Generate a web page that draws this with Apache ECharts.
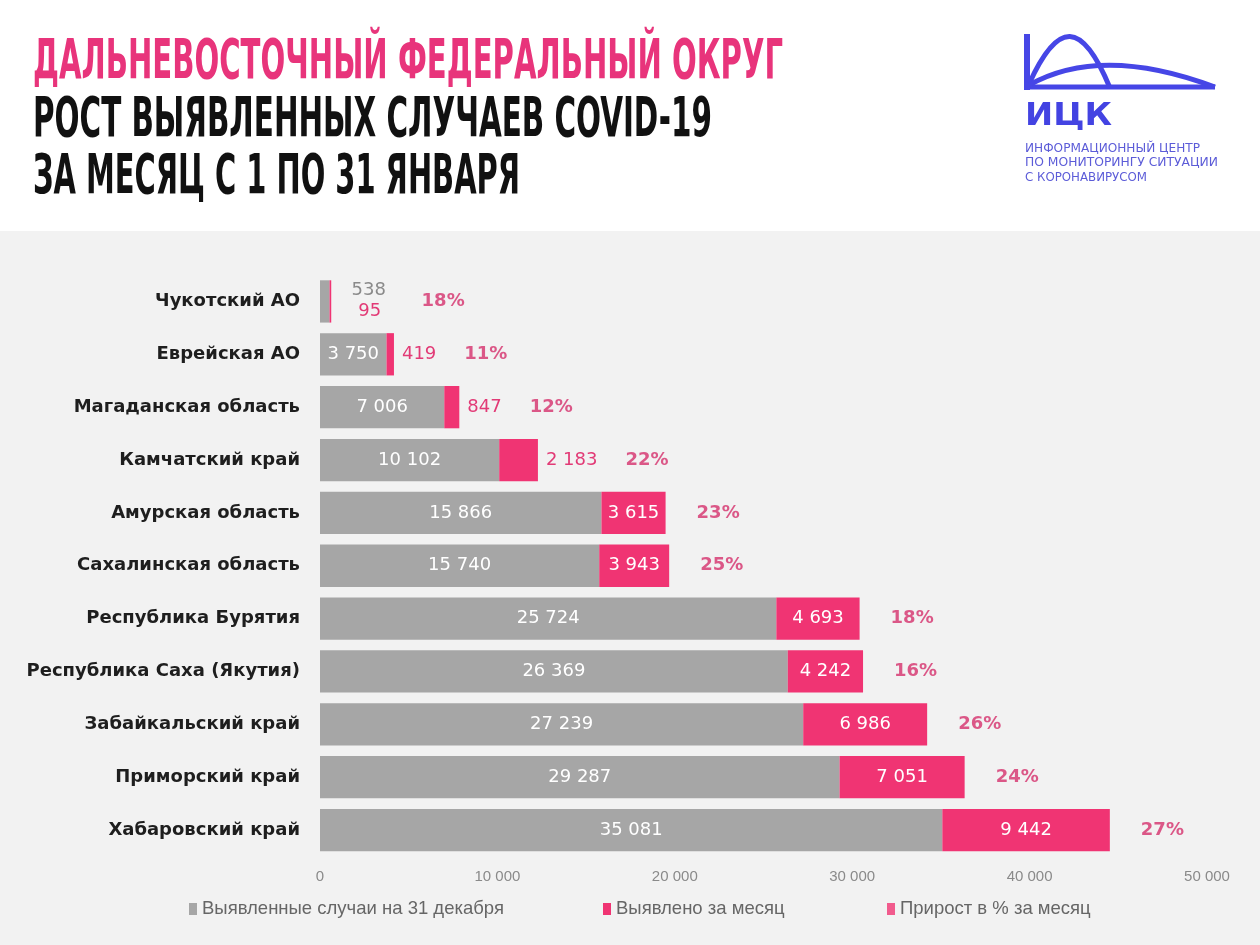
<!DOCTYPE html>
<html><head><meta charset="utf-8">
<script src="https://cdn.jsdelivr.net/npm/echarts@6/dist/echarts.min.js"></script>
<style>html,body{margin:0;padding:0;background:#f2f2f2}#c{width:1260px;height:945px}</style>
</head><body><div id="c"></div>
<script>
// ---- data ----
const categories = ['Чукотский АО','Еврейская АО','Магаданская область','Камчатский край','Амурская область','Сахалинская область','Республика Бурятия','Республика Саха (Якутия)','Забайкальский край','Приморский край','Хабаровский край'];
const baseCases = [538, 3750, 7006, 10102, 15866, 15740, 25724, 26369, 27239, 29287, 35081];
const monthCases = [95, 419, 847, 2183, 3615, 3943, 4693, 4242, 6986, 7051, 9442];
const growthPct = [18, 11, 12, 22, 23, 25, 18, 16, 26, 24, 27];
const seriesNames = ['Выявленные случаи на 31 декабря', 'Выявлено за месяц', 'Прирост в % за месяц'];
const titleLines = ['ДАЛЬНЕВОСТОЧНЫЙ ФЕДЕРАЛЬНЫЙ ОКРУГ', 'РОСТ ВЫЯВЛЕННЫХ СЛУЧАЕВ COVID-19', 'ЗА МЕСЯЦ С 1 ПО 31 ЯНВАРЯ'];
const logoLines = ['ИНФОРМАЦИОННЫЙ ЦЕНТР', 'ПО МОНИТОРИНГУ СИТУАЦИИ', 'С КОРОНАВИРУСОМ'];

// ---- helpers ----
const fmt = n => String(n).replace(/\B(?=(\d{3})+(?!\d))/g, ' ');
const ctx = document.createElement('canvas').getContext('2d');
const measure = (t, font) => { ctx.font = font; return ctx.measureText(t).width; };

const GRAY = '#a6a6a6', PINK = '#f03473', PINK_TXT = '#e23a76', PCT = '#d42f6b', BLUE = '#4646e6';
const LABEL_FONT = '18px "DejaVu Sans"';
const INSIDE_MIN = 3000;

function scaledText(txt, font, color, x, yMid, targetW) {
  const w = measure(txt, font);
  return { type: 'text', x: x, y: yMid, scaleX: targetW / w, scaleY: 1, silent: true,
    style: { text: txt, font: font, fill: color, x: 0, y: 0, align: 'left', verticalAlign: 'middle' } };
}

const baseData = baseCases.map(v => v >= INSIDE_MIN
  ? { value: v, label: { position: 'inside', color: '#fff' } }
  : { value: v, label: { position: 'right', distance: 22, offset: [0, -11], color: '#8a8a8a' } });

const monthData = monthCases.map((v, i) => {
  if (v >= INSIDE_MIN) return { value: v, label: { position: 'inside', color: '#fff' } };
  if (baseCases[i] >= INSIDE_MIN) return { value: v, label: { position: 'right', distance: 8, color: PINK_TXT } };
  return { value: v, label: { position: 'right', distance: 27, offset: [0, 10], color: PINK_TXT } };
});

const pctData = growthPct.map((p, i) => {
  const total = baseCases[i] + monthCases[i];
  let dist;
  if (monthCases[i] >= INSIDE_MIN) dist = 31;
  else if (baseCases[i] >= INSIDE_MIN) dist = 8 + measure(fmt(monthCases[i]), LABEL_FONT) + 28;
  else dist = 22 + Math.max(measure(fmt(baseCases[i]), LABEL_FONT), measure(fmt(monthCases[i]), LABEL_FONT)) + 34;
  return { value: [total, categories[i]], label: { distance: dist } };
});

const legendCommon = {
  icon: 'rect', itemWidth: 8, itemHeight: 12, itemGap: 0, padding: 0, top: 899,
  selectedMode: false,
  textStyle: { fontFamily: '"Liberation Sans"', fontSize: 18.5, color: '#666', lineHeight: 20 }
};

const TITLE_FONT = 'bold 56px "DejaVu Sans Condensed"';
const graphics = [
  { type: 'rect', silent: true, shape: { x: 0, y: 0, width: 1260, height: 231 }, style: { fill: '#ffffff' } },
  scaledText(titleLines[0], TITLE_FONT, '#e8347b', 33, 63, 750),
  scaledText(titleLines[1], TITLE_FONT, '#111111', 33, 121, 679),
  scaledText(titleLines[2], TITLE_FONT, '#111111', 33, 178, 487),
  // logo
  { type: 'line', silent: true, shape: { x1: 1027, y1: 34, x2: 1027, y2: 90 }, style: { stroke: BLUE, lineWidth: 6 } },
  { type: 'line', silent: true, shape: { x1: 1024, y1: 87, x2: 1215, y2: 87 }, style: { stroke: BLUE, lineWidth: 5 } },
  { type: 'bezierCurve', silent: true, shape: { x1: 1029, y1: 84, cpx1: 1058, cpy1: 20, cpx2: 1082, cpy2: 20, x2: 1110, y2: 88 }, style: { stroke: BLUE, lineWidth: 5, fill: null } },
  { type: 'bezierCurve', silent: true, shape: { x1: 1029, y1: 85, cpx1: 1070, cpy1: 62, cpx2: 1130, cpy2: 55, x2: 1215, y2: 87 }, style: { stroke: BLUE, lineWidth: 5, fill: null } },
  scaledText('ИЦК', 'bold 32px "DejaVu Sans"', '#4343e2', 1025, 116.5, 87),
  scaledText(logoLines[0], '12px "DejaVu Sans"', '#5c5cd8', 1025, 149, 175),
  scaledText(logoLines[1], '12px "DejaVu Sans"', '#5c5cd8', 1025, 162.5, 193),
  scaledText(logoLines[2], '12px "DejaVu Sans"', '#5c5cd8', 1025, 177.5, 122)
];

const chart = echarts.init(document.getElementById('c'), null, { renderer: 'canvas' });
chart.setOption({
  backgroundColor: '#f2f2f2',
  animation: false,
  graphic: graphics,
  grid: { left: 320, right: 53, top: 275, bottom: 88.5 },
  xAxis: {
    type: 'value', min: 0, max: 50000, interval: 10000,
    axisLine: { show: false }, axisTick: { show: false }, splitLine: { show: false },
    axisLabel: { formatter: v => fmt(v), color: '#8a8a8a', fontSize: 15, fontFamily: '"Liberation Sans"', margin: 13 }
  },
  yAxis: {
    type: 'category', data: categories, inverse: true,
    axisLine: { show: false }, axisTick: { show: false }, splitLine: { show: false },
    axisLabel: { color: '#1e1e1e', fontWeight: 'bold', fontSize: 18, fontFamily: '"DejaVu Sans"', margin: 20 }
  },
  legend: [
    Object.assign({ data: [seriesNames[0]], left: 189 }, legendCommon),
    Object.assign({ data: [seriesNames[1]], left: 603 }, legendCommon),
    Object.assign({ data: [seriesNames[2]], left: 887 }, legendCommon)
  ],
  series: [
    { name: seriesNames[0], type: 'bar', stack: 'total', barWidth: '80%', silent: true,
      itemStyle: { color: GRAY },
      label: { show: true, formatter: p => fmt(p.value), fontSize: 18, fontFamily: '"DejaVu Sans"' },
      data: baseData },
    { name: seriesNames[1], type: 'bar', stack: 'total', barWidth: '80%', silent: true,
      itemStyle: { color: PINK },
      label: { show: true, formatter: p => fmt(p.value), fontSize: 18, fontFamily: '"DejaVu Sans"' },
      data: monthData },
    { name: seriesNames[2], type: 'scatter', symbolSize: 0, silent: true,
      itemStyle: { color: PINK },
      label: { show: true, position: 'right', formatter: (p) => growthPct[p.dataIndex] + '%', color: PCT, fontWeight: 'bold', fontSize: 18, fontFamily: '"DejaVu Sans"' },
      data: pctData }
  ]
});
</script>
</body></html>
